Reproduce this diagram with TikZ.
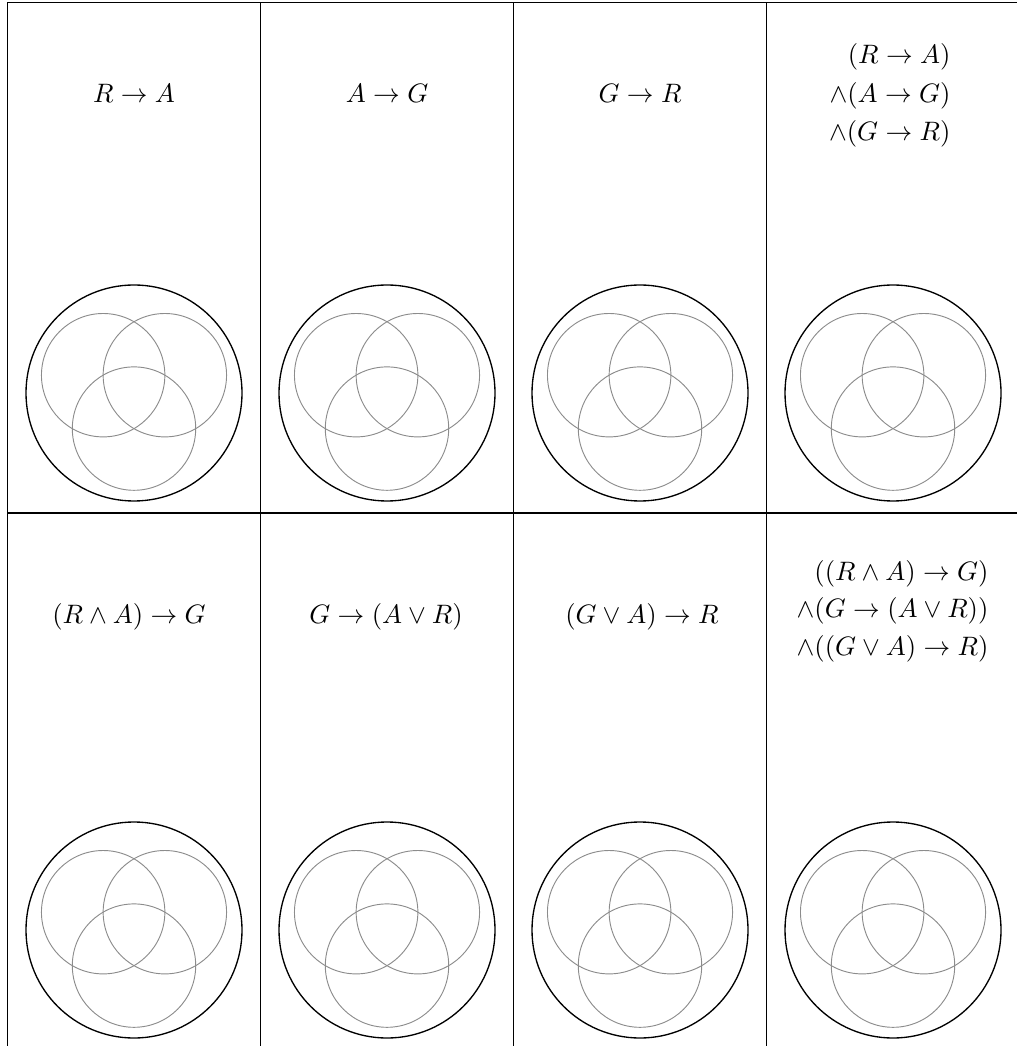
\documentclass[tikz,border=0pt]{standalone}
\begin{document}
\begin{tikzpicture}[x=0.375pt,y=-0.375pt,
  gridline/.style={line width=0.4pt, black},
  outercirc/.style={line width=0.5pt, black},
  venncirc/.style={line width=0.35pt, black!45},
  lblc/.style={inner sep=0pt, anchor=base},
  lblr/.style={inner sep=0pt, anchor=base east}]
\useasboundingbox (0,0) rectangle (1017,1046);
% table rules
\foreach \x in {7.5,260.5,513.5,766.5} \draw[gridline] (\x,2.5) -- (\x,1046);
\foreach \y in {2.5,513} \draw[gridline] (7.5,\y) -- (1017,\y);
% circles
\foreach \cx in {134,387,640,893} {
  \foreach \cy in {393,930} {
    \draw[outercirc] (\cx,\cy) circle[radius=108];
    \draw[venncirc] (\cx-30.85,\cy-17.8) circle[radius=61.7];
    \draw[venncirc] (\cx+30.85,\cy-17.8) circle[radius=61.7];
    \draw[venncirc] (\cx,\cy+35.6) circle[radius=61.7];
  }
}
% row 1 labels
\node[lblc] (t11) at (134,103) {$R\to A$};
\node[lblc] (t12) at (387,103) {$A\to G$};
\node[lblc] (t13) at (640,103) {$G\to R$};
\node[lblr] (t14a) at (951,64) {$(R\to A)$};
\node[lblr] (t14b) at (951,102.5) {$\wedge(A\to G)$};
\node[lblr] (t14c) at (951,141) {$\wedge(G\to R)$};
% row 2 labels
\node[lblc] (t21) at (129,623) {$(R\wedge A)\to G$};
\node[lblc] (t22) at (386,623) {$G\to (A\vee R)$};
\node[lblc] (t23) at (642,623) {$(G\vee A)\to R$};
\node[lblr] (t24a) at (989,580) {$((R\wedge A)\to G)$};
\node[lblr] (t24b) at (989,617.5) {$\wedge(G\to (A\vee R))$};
\node[lblr] (t24c) at (989,655) {$\wedge((G\vee A)\to R)$};
\end{tikzpicture}
\end{document}
